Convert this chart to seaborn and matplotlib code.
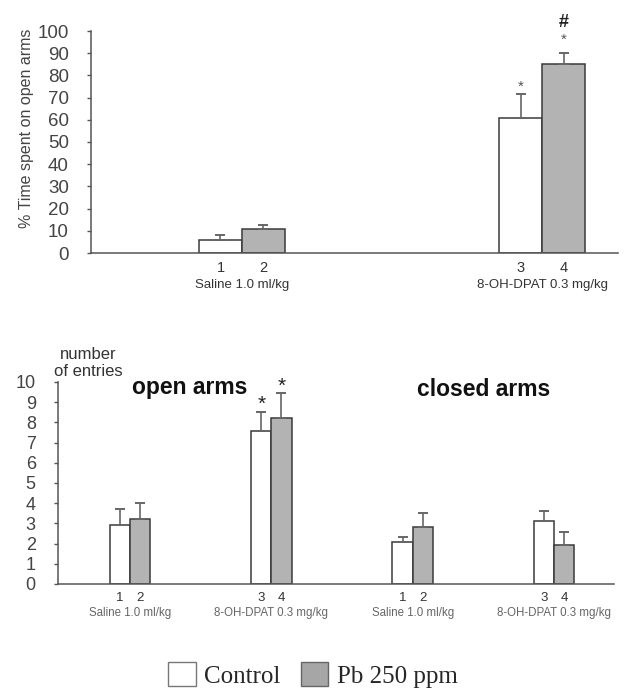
import pandas as pd
import numpy as np
import matplotlib
matplotlib.use("Agg")
import matplotlib.pyplot as plt
from matplotlib.patches import Patch
import seaborn as sns

sns.set_theme(style="white")
plt.rcParams['font.family'] = ['Liberation Sans', 'DejaVu Sans']

# top panel: % time on open arms
top_groups = ["Saline 1.0 ml/kg", "8-OH-DPAT 0.3 mg/kg"]
top_control = [5.9, 61.0]
top_control_err = [2.2, 10.6]
top_pb = [10.7, 85.0]
top_pb_err = [1.9, 5.2]
top_numbers = [["1", "2"], ["3", "4"]]

# bottom panel: number of entries
bot_keys = ["open saline", "open dpat", "closed saline", "closed dpat"]
bot_labels = ["Saline 1.0 ml/kg", "8-OH-DPAT 0.3 mg/kg",
              "Saline 1.0 ml/kg", "8-OH-DPAT 0.3 mg/kg"]
bot_control = [2.9, 7.55, 2.1, 3.1]
bot_control_err = [0.8, 0.95, 0.25, 0.53]
bot_pb = [3.22, 8.2, 2.8, 1.92]
bot_pb_err = [0.81, 1.25, 0.7, 0.67]
bot_numbers = [["1", "2"], ["3", "4"], ["1", "2"], ["3", "4"]]

treatments = ["Control", "Pb 250 ppm"]
colors = ["white", "#b3b3b3"]
edge = "#3a3a3a"
axis_col = "#555555"


def make_df(keys, ctrl, ctrl_err, pb, pb_err):
    return pd.DataFrame({
        "group": list(keys) * 2,
        "treatment": [treatments[0]] * len(keys) + [treatments[1]] * len(keys),
        "value": list(ctrl) + list(pb),
        "err": list(ctrl_err) + list(pb_err),
    })


def draw_panel(ax, df, keys, numbers, num_size, num_offset):
    sns.barplot(data=df, x="group", y="value", hue="treatment", order=keys,
                hue_order=treatments, palette=colors, edgecolor=edge,
                linewidth=1.1, width=0.286, errorbar=None, legend=False,
                saturation=1, ax=ax)
    bar_conts = list(ax.containers)
    tops = {}
    for h, cont in enumerate(bar_conts):
        sub = df[df["treatment"] == treatments[h]].set_index("group").loc[keys]
        for i, bar in enumerate(cont):
            xc = bar.get_x() + bar.get_width() / 2
            val = sub["value"].iloc[i]
            er = sub["err"].iloc[i]
            ax.errorbar(xc, val, yerr=[[0], [er]], fmt="none", ecolor="#666666",
                        elinewidth=1.2, capsize=3.5, capthick=1.4, zorder=1)
            ax.annotate(numbers[i][h], xy=(xc, 0), xycoords="data",
                        xytext=(0, num_offset), textcoords="offset points",
                        ha="center", va="center", fontsize=num_size,
                        color="#333333", annotation_clip=False)
            tops[(i, h)] = (xc, val + er)
    for side in ["top", "right"]:
        ax.spines[side].set_visible(False)
    for side in ["left", "bottom"]:
        ax.spines[side].set_color(axis_col)
        ax.spines[side].set_linewidth(1.1)
    ax.set_xlabel("")
    ax.set_ylabel("")
    return tops


fig = plt.figure(figsize=(6.3, 6.9), dpi=100)

# ---- top panel
ax1 = fig.add_axes([91 / 630, 1 - 253 / 690, (618 - 91) / 630, 222 / 690])
df_top = make_df(top_groups, top_control, top_control_err, top_pb, top_pb_err)
tops1 = draw_panel(ax1, df_top, top_groups, top_numbers, 10.5, -11)
ax1.set_xlim(-0.503, 1.253)
ax1.set_ylim(0, 100)
ax1.set_yticks(range(0, 101, 10))
ax1.tick_params(axis="y", left=True, length=3, width=1, color=axis_col,
                pad=13, labelsize=13.5, labelcolor="#444444")
ax1.tick_params(axis="x", bottom=False, pad=12.4, labelsize=9.5,
                labelcolor="#333333")
ax1.set_xticks([0, 1])
ax1.set_xticklabels(top_groups)
ax1.set_ylabel("% Time spent on open arms", fontsize=11.5, color="#444444")
ax1.yaxis.set_label_coords(-0.108, 0.56)

x3, y3 = tops1[(1, 0)]
x4, y4 = tops1[(1, 1)]
ax1.annotate("*", xy=(x3, y3), xytext=(0, 5), textcoords="offset points",
             ha="center", va="center", fontsize=11, color="#555555")
ax1.annotate("*", xy=(x4, y4), xytext=(0, 9.5), textcoords="offset points",
             ha="center", va="center", fontsize=11, color="#555555")
ax1.annotate("#", xy=(x4, y4), xytext=(0, 22), textcoords="offset points",
             ha="center", va="center", fontsize=13, fontweight="bold",
             color="#222222")

# ---- bottom panel
ax2 = fig.add_axes([58 / 630, 1 - 584 / 690, (614 - 58) / 630, 202 / 690])
df_bot = make_df(bot_keys, bot_control, bot_control_err, bot_pb, bot_pb_err)
tops2 = draw_panel(ax2, df_bot, bot_keys, bot_numbers, 9.5, -10)
ax2.set_xlim(-0.51, 3.425)
ax2.set_ylim(0, 10)
ax2.set_yticks(range(0, 11))
ax2.tick_params(axis="y", left=True, length=3, width=1, color=axis_col,
                pad=13, labelsize=13, labelcolor="#444444")
ax2.tick_params(axis="x", bottom=False, pad=10.7, labelsize=8.3,
                labelcolor="#666666")
ax2.set_xticks(range(4))
ax2.set_xticklabels(bot_labels)

for h, dy in [(0, 5.5), (1, 5)]:
    xs, ys = tops2[(1, h)]
    ax2.annotate("*", xy=(xs, ys), xytext=(0, dy), textcoords="offset points",
                 ha="center", va="center", fontsize=15, color="#222222")

ax2.text(0.237, 0.975, "open arms", transform=ax2.transAxes, ha="center",
         va="center", fontsize=16.5, fontweight="bold", color="#111111")
ax2.text(0.766, 0.965, "closed arms", transform=ax2.transAxes, ha="center",
         va="center", fontsize=16.5, fontweight="bold", color="#111111")
fig.text(88 / 630, 1 - 363 / 690, "number\nof entries", ha="center",
         va="center", fontsize=12, color="#333333", linespacing=1.15)

# ---- legend
handles = [Patch(facecolor="white", edgecolor="#777777", linewidth=1),
           Patch(facecolor="#a6a6a6", edgecolor="#666666", linewidth=1)]
fig.legend(handles, treatments, loc="center", bbox_to_anchor=(313 / 630, 1 - 675 / 690),
           ncol=2, frameon=False, prop={"family": "Liberation Serif", "size": 18},
           handlelength=1.1, handleheight=1.1, handletextpad=0.35,
           columnspacing=0.8, borderpad=0)

fig.savefig("out.png", dpi=100, facecolor="white")
